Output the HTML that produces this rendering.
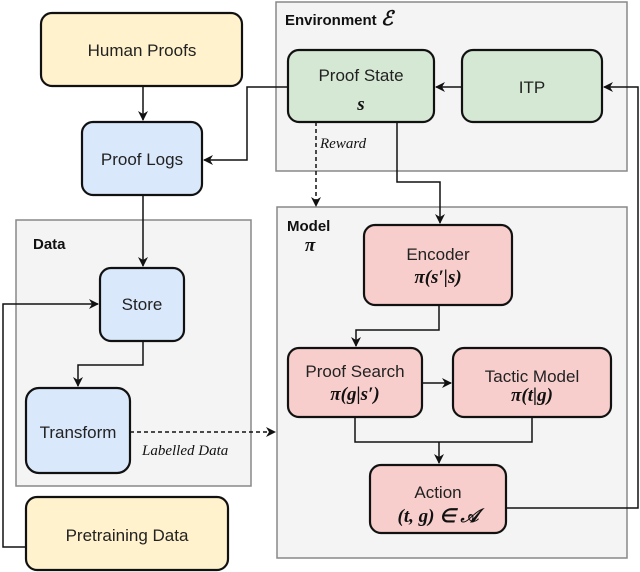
<!DOCTYPE html>
<html><head><meta charset="utf-8"><style>
html,body{margin:0;padding:0;background:#fff;}
svg{display:block;}
.t{font-family:"Liberation Sans",sans-serif;font-size:17px;fill:#222;text-anchor:middle;}
.m{font-family:"Liberation Serif",serif;font-size:19px;font-weight:bold;font-style:italic;fill:#111;text-anchor:middle;}
.b{font-family:"Liberation Sans",sans-serif;font-size:15px;font-weight:bold;fill:#111;}
.l{font-family:"Liberation Serif",serif;font-size:15px;font-style:italic;fill:#111;}
</style></head><body>
<svg width="640" height="572" viewBox="0 0 640 572" xmlns="http://www.w3.org/2000/svg">
<defs><marker id="a" markerWidth="10" markerHeight="10" refX="9" refY="5" orient="auto" markerUnits="userSpaceOnUse"><path d="M0,0 L10,5 L0,10 L3,5 z" fill="#111"/></marker></defs>
<!-- containers -->
<rect x="276" y="2" width="351" height="169" fill="#f4f4f4" stroke="#888" stroke-width="1.5"/>
<rect x="277" y="207" width="350" height="351" fill="#f4f4f4" stroke="#888" stroke-width="1.5"/>
<rect x="16" y="220" width="235" height="266" fill="#f4f4f4" stroke="#888" stroke-width="1.5"/>
<text class="b" x="285" y="25">Environment <tspan font-family="Liberation Serif" font-style="italic" font-size="20">ℰ</tspan></text>
<text class="b" x="287" y="231">Model</text>
<text class="m" x="310" y="251" font-size="22">π</text>
<text class="b" x="33" y="249">Data</text>
<!-- connectors -->
<g stroke="#111" stroke-width="1.5" fill="none">
<path d="M143,86 V120" marker-end="url(#a)"/>
<path d="M288,87 H247 V160 H204" marker-end="url(#a)"/>
<path d="M143,195 V266" marker-end="url(#a)"/>
<path d="M143,341 V365 H78 V386" marker-end="url(#a)"/>
<path d="M26,547 H3 V304 H98" marker-end="url(#a)"/>
<path d="M462,87 H436" marker-end="url(#a)"/>
<path d="M506,508 H638 V87 H604" marker-end="url(#a)"/>
<path d="M397,122 V182 H440 V223" marker-end="url(#a)"/>
<path d="M439,305 V330 H356 V346" marker-end="url(#a)"/>
<path d="M422,383 H451" marker-end="url(#a)"/>
<path d="M355,417 V442 H532 V417"/>
<path d="M439,442 V463" marker-end="url(#a)"/>
<path d="M316,122 V206" stroke-dasharray="4,3" marker-end="url(#a)"/>
<path d="M130,432 H275" stroke-dasharray="4,3" marker-end="url(#a)"/>
</g>
<!-- nodes -->
<g stroke="#111" stroke-width="2.2">
<rect x="41" y="13" width="201" height="73" rx="11" fill="#fff2cc"/>
<rect x="82" y="122" width="120" height="73" rx="11" fill="#dae8fc"/>
<rect x="100" y="268" width="84" height="73" rx="11" fill="#dae8fc"/>
<rect x="26" y="388" width="104" height="85" rx="13" fill="#dae8fc"/>
<rect x="26" y="497" width="202" height="73" rx="11" fill="#fff2cc"/>
<rect x="288" y="50" width="146" height="72" rx="11" fill="#d5e8d4"/>
<rect x="462" y="50" width="140" height="72" rx="11" fill="#d5e8d4"/>
<rect x="364" y="225" width="148" height="80" rx="11" fill="#f8cecc"/>
<rect x="288" y="348" width="134" height="69" rx="11" fill="#f8cecc"/>
<rect x="453" y="348" width="158" height="69" rx="11" fill="#f8cecc"/>
<rect x="370" y="465" width="136" height="68" rx="11" fill="#f8cecc"/>
</g>
<text class="t" x="142" y="56">Human Proofs</text>
<text class="t" x="142" y="165">Proof Logs</text>
<text class="t" x="142" y="310">Store</text>
<text class="t" x="78" y="438">Transform</text>
<text class="t" x="127" y="541">Pretraining Data</text>
<text class="t" x="361" y="81">Proof State</text>
<text class="m" x="361" y="110">s</text>
<text class="t" x="532" y="93">ITP</text>
<text class="t" x="438" y="260">Encoder</text>
<text class="m" x="438" y="283">π(s′|s)</text>
<text class="t" x="355" y="377">Proof Search</text>
<text class="m" x="355" y="400">π(g|s′)</text>
<text class="t" x="532" y="382">Tactic Model</text>
<text class="m" x="532" y="401">π(t|g)</text>
<text class="t" x="438" y="498">Action</text>
<text class="m" x="438" y="522">(t, g) ∈ 𝒜</text>
<text class="l" x="320" y="148">Reward</text>
<text class="l" x="142" y="455">Labelled Data</text>
</svg>
</body></html>
